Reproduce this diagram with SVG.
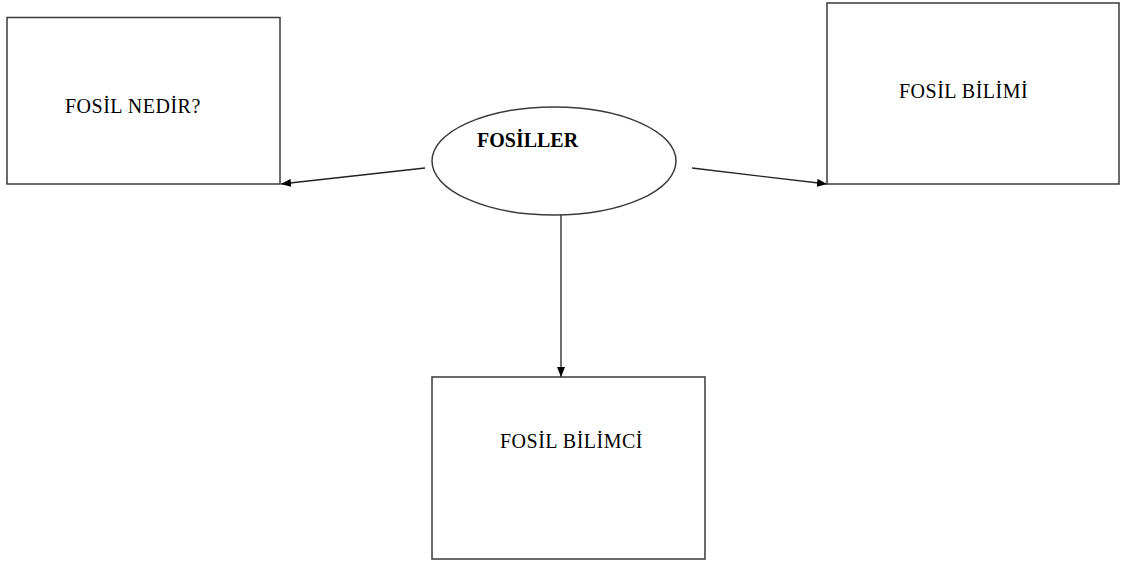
<svg xmlns="http://www.w3.org/2000/svg" width="1123" height="563" viewBox="0 0 1123 563">
  <style>
    .box { fill: #fff; stroke: #3a3a3a; stroke-width: 1.5; }
    .lbl { font-family: "Liberation Serif", "Times New Roman", serif; font-size: 20px; fill: #000; letter-spacing: 0.5px; }
    .title { font-weight: bold; letter-spacing: 0; }
    .conn { stroke: #222; stroke-width: 1.3; fill: none; marker-end: url(#arrow); }
  </style>
  <defs>
    <marker id="arrow" markerWidth="10" markerHeight="8" refX="10" refY="4" orient="auto" markerUnits="userSpaceOnUse">
      <path d="M0,0 L10,4 L0,8 Z" fill="#000"/>
    </marker>
  </defs>
  <rect width="1123" height="563" fill="#fff"/>

  <g id="connectors">
    <line class="conn" x1="425" y1="168" x2="281" y2="184"/>
    <line class="conn" x1="692" y1="168" x2="827" y2="184"/>
    <line class="conn" x1="561" y1="215" x2="561" y2="377"/>
  </g>

  <g id="node-fosiller">
    <ellipse class="box" cx="554" cy="161" rx="122" ry="54"/>
    <text class="lbl title" x="477" y="147">FOSİLLER</text>
  </g>

  <g id="node-fosil-nedir">
    <rect class="box" x="7" y="17.5" width="273" height="166.5"/>
    <text class="lbl" x="65" y="113">FOSİL NEDİR?</text>
  </g>

  <g id="node-fosil-bilimi">
    <rect class="box" x="827" y="3" width="292" height="181"/>
    <text class="lbl" x="899" y="98">FOSİL BİLİMİ</text>
  </g>

  <g id="node-fosil-bilimci">
    <rect class="box" x="432" y="377" width="273" height="182"/>
    <text class="lbl" x="500" y="448">FOSİL BİLİMCİ</text>
  </g>
</svg>
